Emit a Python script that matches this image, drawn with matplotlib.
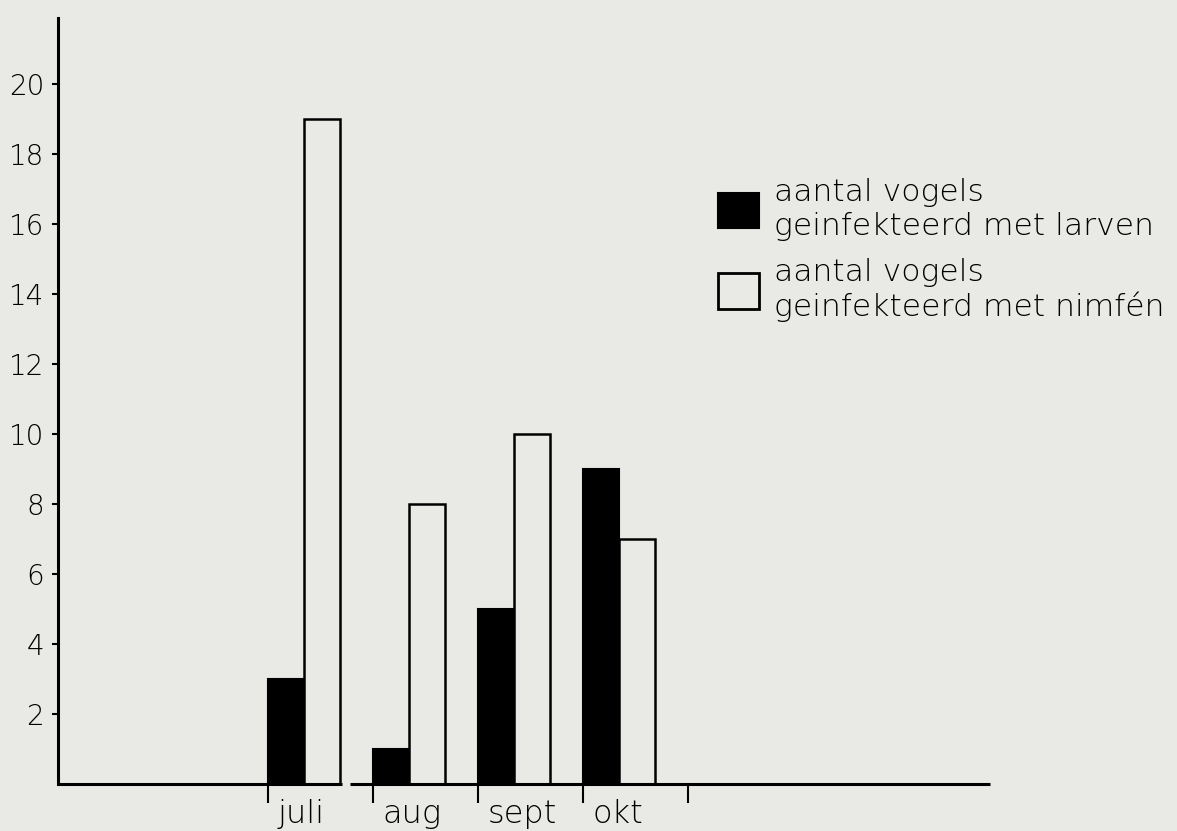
import matplotlib
matplotlib.use('Agg')
import matplotlib.pyplot as plt
from matplotlib.patches import Patch

plt.rcParams['font.family'] = ['DejaVu Sans']

BG = '#e9e9e5'

# data
maanden = ['juli', 'aug', 'sept', 'okt']
maand_pos = [2, 3, 4, 5]
larven = [3, 1, 5, 9]
nimfen = [19, 8, 10, 7]
yticks = [2, 4, 6, 8, 10, 12, 14, 16, 18, 20]

fig = plt.figure(figsize=(11.77, 8.31), dpi=100, facecolor=BG)
ax = fig.add_axes([0.0493, 0.0566, 0.7918, 0.9217])
ax.set_facecolor(BG)

bw = 0.345
ax.bar(maand_pos, larven, width=bw, align='edge', color='black',
       edgecolor='black', lw=1.5)
ax.bar([p + bw for p in maand_pos], nimfen, width=bw, align='edge',
       color=BG, edgecolor='black', lw=1.8)

ax.set_xlim(0, 8.88)
ax.set_ylim(0, 21.9)

for s in ['top', 'right', 'bottom']:
    ax.spines[s].set_visible(False)
ax.spines['left'].set_linewidth(2.2)

# baseline, in twee stukken zoals in het origineel
ax.hlines(0, 0, 2.71, color='black', lw=2.2, clip_on=False, zorder=3)
ax.hlines(0, 2.78, 8.88, color='black', lw=2.2, clip_on=False, zorder=3)

ax.set_yticks(yticks)
ax.set_yticklabels([str(v) for v in yticks], fontsize=20, fontweight='light')
ax.tick_params(axis='y', direction='out', length=4, width=1.5, pad=6)

ax.set_xticks(maand_pos + [6])
ax.set_xticklabels([])
ax.tick_params(axis='x', direction='out', length=14, width=1.5)

for p, m in zip(maand_pos, maanden):
    ax.annotate(m, xy=(p + 0.09, 0), xycoords='data',
                xytext=(0, -10.5), textcoords='offset points',
                ha='left', va='top', fontsize=23, fontweight='light',
                annotation_clip=False)

handles = [Patch(fc='black', ec='black', lw=1.5),
           Patch(fc=BG, ec='black', lw=2)]
labels = ['aantal vogels\ngeinfekteerd met larven',
          'aantal vogels\ngeinfekteerd met nimfén']
fig.legend(handles, labels, loc='upper left',
           bbox_to_anchor=(718 / 1177, 1 - 178 / 831),
           frameon=False, prop={'size': 22.6, 'weight': 'light'},
           handlelength=1.3, handleheight=1.35,
           handletextpad=0.5, labelspacing=0.55, borderpad=0, borderaxespad=0)

fig.savefig('out.png', dpi=100, facecolor=BG)
